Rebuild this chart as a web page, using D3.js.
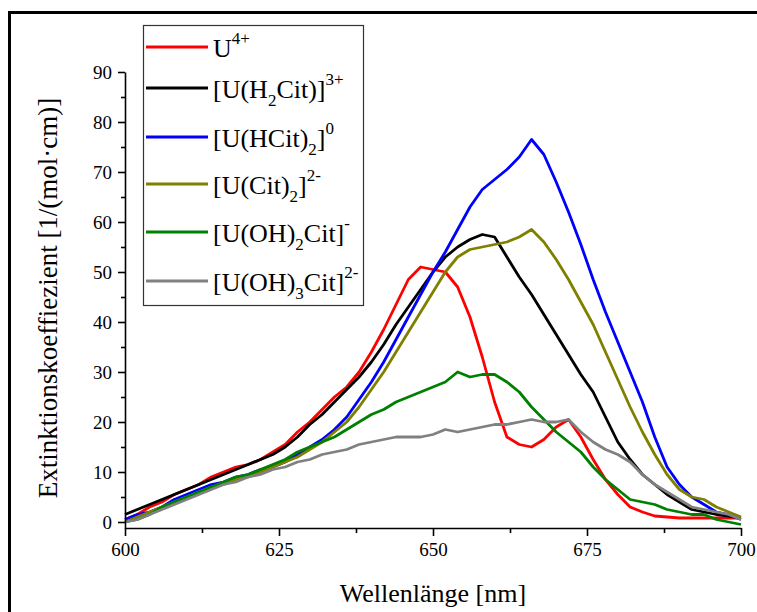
<!DOCTYPE html>
<html><head><meta charset="utf-8">
<script src="https://cdn.jsdelivr.net/npm/d3@7"></script>
<style>
body{margin:0;background:#fff}
svg{display:block}
text{font-family:"Liberation Serif","Times New Roman",serif;fill:#000}
</style>
</head><body>
<svg id="c" width="757" height="612"></svg>
<script>
// ---- data ----
const wavelengths = [600,602,604,606,608,610,612,614,616,618,620,622,624,626,628,630,632,634,636,638,640,642,644,646,648,650,652,654,656,658,660,662,664,666,668,670,672,674,676,678,680,682,684,686,688,690,692,694,696,698,700];
const u4 =      [0.5,1.5,3,4,5.5,6.5,7.5,9,10,11,11.5,12.5,14,15.5,18,20,22.5,25,27,30,34,38.5,43.5,48.5,51,50.5,50,47,41,33,24,17,15.5,15,16.5,19,20.5,17,12.5,8.5,5.5,3,2,1.2,1,0.8,0.8,0.8,0.8,0.8,0.8];
const uH2Cit =  [1.5,2.5,3.5,4.5,5.5,6.5,7.5,8.5,9.5,10.5,11.5,12.5,13.5,15,17,19.5,21.5,24,26.5,29,32,35.5,39.5,43,46.5,50,53,55,56.5,57.5,57,53,49,45.5,41.5,37.5,33.5,29.5,26,21,16,12.5,9.5,7.5,5.5,4,2.5,2,1.5,1.2,0.8];
const uHCit2 =  [0.5,1.5,2,3,4.5,5.5,6.5,7.5,8,9,9.5,10.5,11,12,13.5,15,16.5,18.5,21,24.5,28,32,36.5,41,45.5,50,54,58.5,63,66.5,68.5,70.5,73,76.5,73.5,68,62,55.5,48.5,42,36,30,24,17,11,7.5,5,3.5,2,1.5,0.5];
const uCit2 =   [0,1,2,3,4,5,6,7,7.5,8.5,9,10,11,12,13,14.5,16,18,20,23,26.5,30,34,38,42,46,50,53,54.5,55,55.5,56,57,58.5,56,52.5,48.5,44,39.5,34,28.5,23,18,13.5,9.5,6.5,5,4.5,3,2,1];
const uOH2Cit = [0,0.5,1.5,3,4,5,6,7,8,9,9.5,10.5,11.5,12.5,14,15,16,17,18.5,20,21.5,22.5,24,25,26,27,28,30,29,29.5,29.5,28,26,23,20.5,18,16,14,11,8.5,6.5,4.5,4,3.5,2.5,2,1.5,1.5,0.5,0,-0.5];
const uOH3Cit = [0,0.5,1.5,2.5,3.5,4.5,5.5,6.5,7.5,8,9,9.5,10.5,11,12,12.5,13.5,14,14.5,15.5,16,16.5,17,17,17,17.5,18.5,18,18.5,19,19.5,19.5,20,20.5,20,20,20.5,18,16,14.5,13.5,12,9.5,7.5,6,4.5,3,2.5,2,1.5,0.5];
const seriesColors = ["#ff0000","#000000","#0000ff","#808000","#008000","#808080"];
// legend label parts: [text, kind] kind: n normal, sub, sup
const legendLabels = [
  [["U","n"],["4+","sup"]],
  [["[U(H","n"],["2","sub"],["Cit)]","n"],["3+","sup"]],
  [["[U(HCit)","n"],["2","sub"],["]","n"],["0","sup"]],
  [["[U(Cit)","n"],["2","sub"],["]","n"],["2-","sup"]],
  [["[U(OH)","n"],["2","sub"],["Cit]","n"],["-","sup"]],
  [["[U(OH)","n"],["3","sub"],["Cit]","n"],["2-","sup"]]
];
const xMajorTicks = [600,625,650,675,700];
const xMinorTicks = [612.5,637.5,662.5,687.5];
const yMajorTicks = [0,10,20,30,40,50,60,70,80,90];
const yMinorTicks = [5,15,25,35,45,55,65,75,85];
const xTitle = "Wellenlänge [nm]";
const yTitle = "Extinktionskoeffiezient [1/(mol·cm)]";

const seriesValues = [u4,uH2Cit,uHCit2,uCit2,uOH2Cit,uOH3Cit];

// ---- layout ----
const svg = d3.select("#c");
const x = d3.scaleLinear().domain([600,700]).range([125,741]);
const y = d3.scaleLinear().domain([-1.2,90]).range([528,72]);

// outer frame (cropped)
svg.append("path").attr("d","M9.5,612 V12.5 H757").attr("fill","none").attr("stroke","#000").attr("stroke-width",3);

// curves
const line = d3.line().x((d,i)=>x(wavelengths[i])).y(d=>y(d));
const g = svg.append("g");
seriesValues.forEach((vals,k)=>{
  g.append("path").datum(vals).attr("d",line).attr("fill","none")
    .attr("stroke",seriesColors[k]).attr("stroke-width",2.8).attr("stroke-linejoin","round");
});

// axes
const fs = "19px";
svg.append("g").attr("transform","translate(125,0)")
  .call(d3.axisLeft(y).tickValues(yMajorTicks).tickSize(7).tickSizeOuter(0).tickPadding(6).tickFormat(d3.format("d")));
svg.append("g").attr("transform","translate(125,0)")
  .call(d3.axisLeft(y).tickValues(yMinorTicks).tickSize(4).tickSizeOuter(0).tickFormat(""))
  .select(".domain").remove();
svg.append("g").attr("transform","translate(0,528)")
  .call(d3.axisBottom(x).tickValues(xMajorTicks).tickSize(8).tickSizeOuter(0).tickPadding(7).tickFormat(d3.format("d")));
svg.append("g").attr("transform","translate(0,528)")
  .call(d3.axisBottom(x).tickValues(xMinorTicks).tickSize(5).tickSizeOuter(0).tickFormat(""))
  .select(".domain").remove();
svg.selectAll(".tick text").attr("font-size",fs).attr("font-family","Liberation Serif, serif").attr("fill","#000");
svg.selectAll(".domain,.tick line").attr("stroke","#000").attr("stroke-width",1.6);

// titles
svg.append("text").attr("x",433).attr("y",602).attr("text-anchor","middle").attr("font-size","26px").text(xTitle);
svg.append("text").attr("transform","translate(57,298) rotate(-90)").attr("text-anchor","middle").attr("font-size","27px").text(yTitle);

// legend
const lg = svg.append("g");
lg.append("rect").attr("x",143.5).attr("y",25.5).attr("width",220).attr("height",280)
  .attr("fill","#fff").attr("stroke","#333").attr("stroke-width",1.2);
const rowY = [47,88,137,184,232,281];
legendLabels.forEach((parts,k)=>{
  const yy = rowY[k];
  lg.append("line").attr("x1",146).attr("x2",208).attr("y1",yy).attr("y2",yy)
    .attr("stroke",seriesColors[k]).attr("stroke-width",3.2);
  const t = lg.append("text").attr("x",213).attr("y",yy+10).attr("font-size","26px");
  let cur = 0;
  parts.forEach(([s,kind])=>{
    let target = kind==="sup" ? -13 : kind==="sub" ? 8 : 0;
    t.append("tspan").attr("dy",target-cur).attr("font-size",kind==="n"?"26px":"17px").text(s);
    cur = target;
  });
});
</script>
</body></html>
